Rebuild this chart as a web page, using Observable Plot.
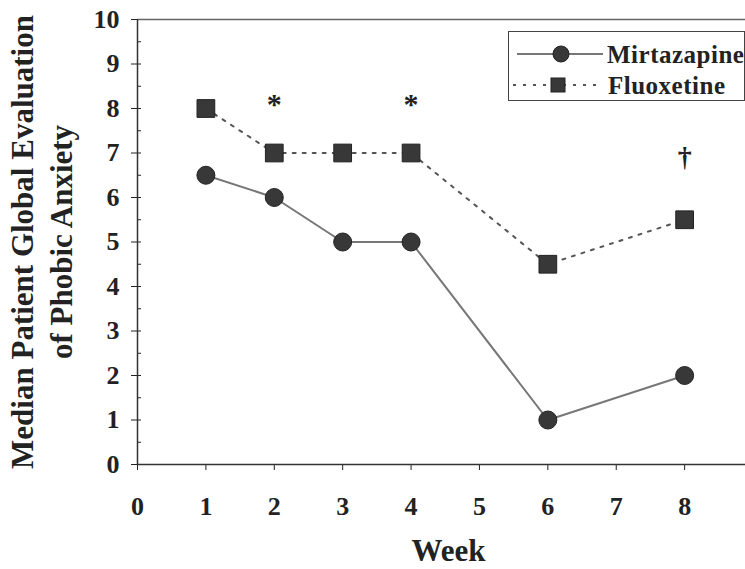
<!DOCTYPE html>
<html>
<head>
<meta charset="utf-8">
<script src="https://cdn.jsdelivr.net/npm/d3@7"></script>
<script src="https://cdn.jsdelivr.net/npm/@observablehq/plot@0.6"></script>
<style>
  html, body { margin: 0; padding: 0; background: #fff; }
  #wrap { position: relative; width: 745px; height: 569px; }
  #legend { position: absolute; left: 508px; top: 31px; width: 237px; height: 70px; box-sizing: border-box;
    border: 1.5px solid #444; background: #fff; }
  #legend svg { position: absolute; left: 0; top: 0; }
  #legend text { font-family: "Liberation Serif", "Times New Roman", serif; font-weight: bold; font-size: 25px; letter-spacing: 0.5px; fill: #222; }
</style>
</head>
<body>
<div id="wrap"></div>
<script>
const weeks = [1, 2, 3, 4, 6, 8];
const mirtazapine = [6.5, 6, 5, 5, 1, 2];
const fluoxetine = [8, 7, 7, 7, 4.5, 5.5];
const markWeeks = [2, 4, 8];
const markValues = [8.1, 8.1, 6.9];
const markLabels = ["*", "*", "†"];
const seriesNames = ["Mirtazapine", "Fluoxetine"];
const xTicks = [0, 1, 2, 3, 4, 5, 6, 7, 8];
const yTicks = [0, 1, 2, 3, 4, 5, 6, 7, 8, 9, 10];
const yMinor = d3.range(0, 10.01, 0.5);

const mirtData = weeks.map((w, i) => ({week: w, value: mirtazapine[i]}));
const fluoData = weeks.map((w, i) => ({week: w, value: fluoxetine[i]}));
const marks = markWeeks.map((w, i) => ({week: w, value: markValues[i], label: markLabels[i]}));

const font = "'Liberation Serif', 'Times New Roman', serif";
const markerFill = "#383838";

const chart = Plot.plot({
  width: 745,
  height: 569,
  marginLeft: 137,
  marginTop: 19,
  marginBottom: 105,
  marginRight: 0,
  style: {fontFamily: font, fontWeight: "bold", fontSize: "26px", color: "#222", background: "#fff"},
  x: {domain: [0, 8.89]},
  y: {domain: [0, 10]},
  marks: [
    Plot.axisX({ticks: xTicks, tickSize: 6, tickPadding: 26, tickFormat: d => d, label: null, fontSize: 26}),
    Plot.axisY({ticks: yTicks, tickSize: 6, tickPadding: 12, tickFormat: d => d, label: null, fontSize: 26}),
    Plot.axisY({ticks: yMinor, tickSize: -4, tickFormat: () => "", label: null}),
    Plot.ruleY([0], {stroke: "#333", strokeWidth: 1.5}),
    Plot.ruleY([10], {stroke: "#666", strokeWidth: 1.5}),
    Plot.ruleX([0], {stroke: "#333", strokeWidth: 1.5}),
    Plot.line(mirtData, {x: "week", y: "value", stroke: "#777", strokeWidth: 2}),
    Plot.line(fluoData, {x: "week", y: "value", stroke: "#555", strokeWidth: 2, strokeDasharray: "3,7"}),
    Plot.dot(mirtData, {x: "week", y: "value", r: 9, fill: markerFill, stroke: "#222", strokeWidth: 1}),
    Plot.dot(fluoData, {x: "week", y: "value", symbol: "square", r: 10, fill: markerFill, stroke: "#222", strokeWidth: 1}),
    Plot.text(marks, {x: "week", y: "value", text: "label", fontSize: d => d.label === "*" ? 30 : 28, fontWeight: "bold", fill: "#222"}),
    Plot.text(["Median Patient Global Evaluation"], {frameAnchor: "left", textAnchor: "middle", lineAnchor: "middle", dx: -114, rotate: -90, fontSize: 31, fontWeight: "bold", fill: "#222", text: d => d}),
    Plot.text(["of Phobic Anxiety"], {frameAnchor: "left", textAnchor: "middle", lineAnchor: "middle", dx: -75, rotate: -90, fontSize: 31, fontWeight: "bold", fill: "#222", text: d => d}),
    Plot.text(["Week"], {frameAnchor: "bottom", textAnchor: "middle", lineAnchor: "middle", dx: 7, dy: 87, fontSize: 31, fontWeight: "bold", fill: "#222", text: d => d})
  ]
});
const wrap = document.getElementById("wrap");
wrap.appendChild(chart);

const legend = document.createElement("div");
legend.id = "legend";
legend.innerHTML = `
  <svg width="237" height="70">
    <line x1="8" y1="22" x2="94" y2="22" stroke="#777" stroke-width="2"/>
    <circle cx="52" cy="22" r="8" fill="${markerFill}" stroke="#222"/>
    <text x="98" y="22" dominant-baseline="central">${seriesNames[0]}</text>
    <line x1="4" y1="53" x2="92" y2="53" stroke="#555" stroke-width="2" stroke-dasharray="3,7"/>
    <rect x="42" y="46" width="14" height="14" fill="${markerFill}" stroke="#222"/>
    <text x="99" y="53" dominant-baseline="central">${seriesNames[1]}</text>
  </svg>`;
wrap.appendChild(legend);
</script>
</body>
</html>
